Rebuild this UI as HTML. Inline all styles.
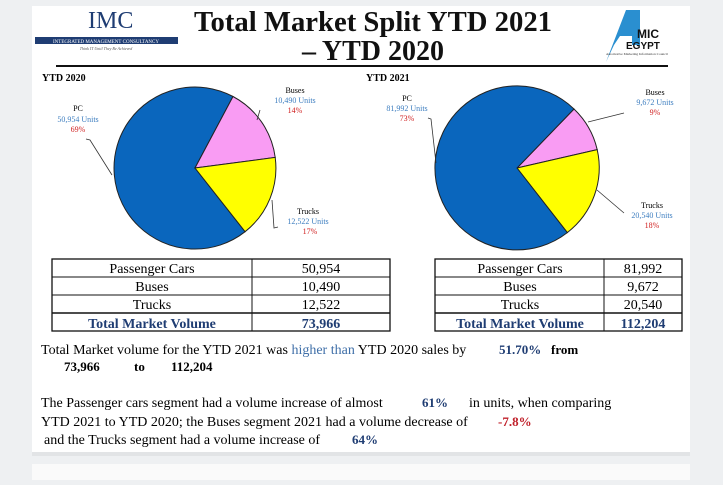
<!DOCTYPE html>
<html><head><meta charset="utf-8"><style>
body{margin:0;width:723px;height:480px;background:#eef0f2;overflow:hidden;font-family:"Liberation Serif",serif}
</style></head><body>
<svg width="723" height="480" xmlns="http://www.w3.org/2000/svg" font-family="Liberation Serif, serif">
<rect x="32" y="6" width="658" height="446" fill="#fff"/>
<rect x="32" y="452" width="658" height="4" fill="#e2e4e6"/>
<rect x="32" y="464" width="658" height="16" fill="#fafafa"/>

<!-- header -->
<text x="88" y="28" font-size="24" fill="#1f3d73">IMC</text>
<rect x="35" y="37" width="143" height="7" fill="#1f3d73"/>
<text x="106" y="43" font-size="5" fill="#fff" text-anchor="middle">INTEGRATED MANAGEMENT CONSULTANCY</text>
<text x="106" y="50" font-size="4" fill="#555" text-anchor="middle" font-style="italic">Think IT Until They Be Achieved</text>
<text x="373" y="31" font-size="28" font-weight="bold" text-anchor="middle" fill="#111" textLength="358" lengthAdjust="spacingAndGlyphs">Total Market Split YTD 2021</text>
<text x="373" y="60" font-size="28" font-weight="bold" text-anchor="middle" fill="#111">– YTD 2020</text>
<line x1="56" y1="66" x2="668" y2="66" stroke="#111" stroke-width="2"/>
<polygon points="606,62 626,10 640,10 640,45 632,45 632,36 620,36 614,45" fill="#2a8fd0"/>
<text x="637" y="38" font-size="12" font-weight="bold" font-family="Liberation Sans, sans-serif" fill="#111">MIC</text>
<text x="626" y="49" font-size="10" font-weight="bold" font-family="Liberation Sans, sans-serif" fill="#111">EGYPT</text>
<text x="606" y="55" font-size="3.5" fill="#333">Automotive Marketing Information Council</text>

<text x="42" y="81" font-size="10" font-weight="bold">YTD 2020</text>
<text x="366" y="81" font-size="10" font-weight="bold">YTD 2021</text>

<g stroke="#222" stroke-width="1">
<path d="M195,168 L245.1,231.7 A81,81 0 1 1 233.0,96.5 Z" fill="#0a66bd"/>
<path d="M195,168 L233.0,96.5 A81,81 0 0 1 275.2,157.4 Z" fill="#f99cf3"/>
<path d="M195,168 L275.2,157.4 A81,81 0 0 1 245.1,231.7 Z" fill="#ffff00"/>
</g>
<g stroke="#222" stroke-width="1">
<path d="M517,168 L574.0,109.0 A82,82 0 0 1 597.2,149.6 Z" fill="#f99cf3"/>
<path d="M517,168 L597.2,149.6 A82,82 0 0 1 567.3,232.6 Z" fill="#ffff00"/>
<path d="M517,168 L567.3,232.6 A82,82 0 1 1 574.0,109.0 Z" fill="#0a66bd"/>
</g>
<g stroke="#333" stroke-width="0.8" fill="none">
<polyline points="86,139 90,140 112,175"/>
<polyline points="260,110 257,120"/>
<polyline points="278,227 274,228 272,200"/>
<polyline points="428,118 431,119 436,163"/>
<polyline points="624,113 588,122"/>
<polyline points="624,213 597,190"/>
</g>
<g font-size="8" text-anchor="middle">
<text x="78" y="111">PC</text><text x="78" y="122" fill="#3f7fc0">50,954  Units</text><text x="78" y="132" fill="#d02020">69%</text>
<text x="295" y="93">Buses</text><text x="295" y="103" fill="#3f7fc0">10,490 Units</text><text x="295" y="113" fill="#d02020">14%</text>
<text x="308" y="214">Trucks</text><text x="308" y="224" fill="#3f7fc0">12,522 Units</text><text x="310" y="234" fill="#d02020">17%</text>
<text x="407" y="101">PC</text><text x="407" y="111" fill="#3f7fc0">81,992  Units</text><text x="407" y="121" fill="#d02020">73%</text>
<text x="655" y="95">Buses</text><text x="655" y="105" fill="#3f7fc0">9,672 Units</text><text x="655" y="115" fill="#d02020">9%</text>
<text x="652" y="208">Trucks</text><text x="652" y="218" fill="#3f7fc0">20,540 Units</text><text x="652" y="228" fill="#d02020">18%</text>
</g>

<!-- tables -->
<g stroke="#111" fill="none">
<rect x="52" y="259" width="338" height="72" stroke-width="1.3"/>
<line x1="52" y1="277" x2="390" y2="277"/><line x1="52" y1="295" x2="390" y2="295"/><line x1="52" y1="313" x2="390" y2="313" stroke-width="1.6"/>
<line x1="252" y1="259" x2="252" y2="331"/>
<rect x="435" y="259" width="247" height="72" stroke-width="1.3"/>
<line x1="435" y1="277" x2="682" y2="277"/><line x1="435" y1="295" x2="682" y2="295"/><line x1="435" y1="313" x2="682" y2="313" stroke-width="1.6"/>
<line x1="604" y1="259" x2="604" y2="331"/>
</g>
<g font-size="14" text-anchor="middle">
<text x="152" y="273">Passenger Cars</text><text x="321" y="273">50,954</text>
<text x="152" y="291">Buses</text><text x="321" y="291">10,490</text>
<text x="152" y="309">Trucks</text><text x="321" y="309">12,522</text>
<text x="152" y="328" fill="#1f3d73" font-weight="bold">Total Market Volume</text><text x="321" y="328" fill="#1f3d73" font-weight="bold">73,966</text>
<text x="520" y="273">Passenger Cars</text><text x="643" y="273">81,992</text>
<text x="520" y="291">Buses</text><text x="643" y="291">9,672</text>
<text x="520" y="309">Trucks</text><text x="643" y="309">20,540</text>
<text x="520" y="328" fill="#1f3d73" font-weight="bold">Total Market Volume</text><text x="643" y="328" fill="#1f3d73" font-weight="bold">112,204</text>
</g>
<g font-size="14">
<text x="41" y="354">Total Market volume for the YTD 2021 was <tspan fill="#3f6fa8">higher than</tspan> YTD 2020 sales by</text>
<text x="499" y="354" font-weight="bold" fill="#1f3d73" font-size="13">51.70%</text>
<text x="551" y="354" font-weight="bold" font-size="13">from</text>
<text x="64" y="371" font-weight="bold" font-size="13">73,966</text>
<text x="134" y="371" font-weight="bold" font-size="13">to</text>
<text x="171" y="371" font-weight="bold" font-size="13">112,204</text>
<text x="41" y="407">The Passenger cars segment had a volume increase of almost</text>
<text x="422" y="407" font-weight="bold" fill="#1f3d73" font-size="13">61%</text>
<text x="469" y="407">in units, when comparing</text>
<text x="41" y="426">YTD 2021 to YTD 2020; the Buses segment 2021  had a volume decrease of</text>
<text x="498" y="426" font-weight="bold" fill="#c0202a" font-size="13">-7.8%</text>
<text x="44" y="444">and the Trucks segment had a volume increase of</text>
<text x="352" y="444" font-weight="bold" fill="#1f3d73" font-size="13">64%</text>
</g>
</svg>
</body></html>
